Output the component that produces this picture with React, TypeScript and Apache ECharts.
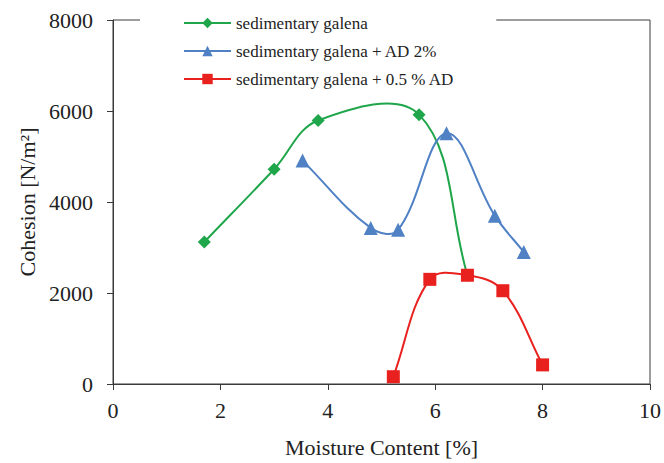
import React, { useEffect, useRef } from "react";
import * as echarts from "echarts";

const seriesNames = [
  "sedimentary galena",
  "sedimentary galena + AD 2%",
  "sedimentary galena + 0.5 % AD",
];

const galenaX = [1.7, 3.0, 3.82, 5.7, 6.6];
const galenaY = [3120, 4720, 5790, 5920, 2390];

const ad2X = [3.53, 4.8, 5.31, 6.21, 7.11, 7.65];
const ad2Y = [4910, 3430, 3390, 5510, 3700, 2900];

const ad05X = [5.22, 5.9, 6.6, 7.26, 8.0];
const ad05Y = [160, 2300, 2390, 2050, 420];

const xTicks = [0, 2, 4, 6, 8, 10];
const yTicks = [0, 2000, 4000, 6000, 8000];

const colors = ["#1fa64a", "#4f81c4", "#e8201e"];
const symbols = ["diamond", "triangle", "rect"];
const symbolSizes = [13, 14, 13];

const FONT = "'Liberation Serif', 'Times New Roman', serif";
const TENSION = 0.38;

function zip(xs: number[], ys: number[]) {
  return xs.map((x, i) => [x, ys[i]]);
}

function dist(a: number[], b: number[]) {
  return Math.hypot(b[0] - a[0], b[1] - a[1]);
}

export default function App() {
  const ref = useRef<HTMLDivElement>(null);
  useEffect(() => {
    document.body.style.margin = "0";
    if (!ref.current) return;
    const chart = echarts.init(ref.current, undefined, { renderer: "svg" });
    const datasets = [zip(galenaX, galenaY), zip(ad2X, ad2Y), zip(ad05X, ad05Y)];

    const makeRender = (pts: number[][], color: string) =>
      (params: any, api: any) => {
        const k = params.dataIndex;
        const n = pts.length;
        if (k >= n - 1) return null;
        const P = pts.map((p) => api.coord(p));
        // control points for point i: [incoming, outgoing]
        const ctrl = (i: number) => {
          const prev = P[Math.max(0, i - 1)];
          const next = P[Math.min(n - 1, i + 1)];
          const cur = P[i];
          const T = [next[0] - prev[0], next[1] - prev[1]];
          const dIn = i > 0 ? dist(prev, cur) : 0;
          const dOut = i < n - 1 ? dist(cur, next) : 0;
          const sum = dIn + dOut || 1;
          const fin = (dIn / sum) * TENSION;
          const fout = (dOut / sum) * TENSION;
          return {
            inc: [cur[0] - T[0] * fin, cur[1] - T[1] * fin],
            out: [cur[0] + T[0] * fout, cur[1] + T[1] * fout],
          };
        };
        const p1 = P[k];
        const p2 = P[k + 1];
        const c1 = ctrl(k).out;
        const c2 = ctrl(k + 1).inc;
        const d = `M${p1[0]},${p1[1]} C${c1[0]},${c1[1]} ${c2[0]},${c2[1]} ${p2[0]},${p2[1]}`;
        return {
          type: "path",
          shape: { pathData: d },
          style: { stroke: color, fill: "none", lineWidth: 2 },
          silent: true,
        };
      };

    const curveSeries = datasets.map((pts, i) => ({
      type: "custom",
      data: pts,
      renderItem: makeRender(pts, colors[i]),
      clip: false,
      z: 2 + i * 2,
      silent: true,
    }));

    const markerSeries = seriesNames.map((name, i) => ({
      name,
      type: "line",
      data: datasets[i],
      symbol: symbols[i],
      symbolSize: symbolSizes[i],
      showSymbol: true,
      z: 3 + i * 2,
      lineStyle: { color: colors[i], width: 2, opacity: 0 },
      itemStyle: { color: colors[i] },
      emphasis: { disabled: true },
    }));

    chart.setOption({
      animation: false,
      backgroundColor: "#ffffff",
      grid: {
        left: 113,
        right: 13,
        top: 20,
        bottom: 77,
        show: true,
        borderColor: "#3a3a3a",
        borderWidth: 1,
        backgroundColor: "transparent",
      },
      legend: {
        orient: "vertical",
        left: 140,
        top: 8,
        padding: [5, 42, 5, 43],
        backgroundColor: "#ffffff",
        itemWidth: 47,
        itemHeight: 13,
        itemGap: 8,
        data: seriesNames.map((name, i) => ({
          name,
          lineStyle: { color: colors[i], width: 2, opacity: 1 },
          itemStyle: { color: colors[i] },
        })),
        textStyle: {
          fontFamily: FONT,
          fontSize: 17,
          color: "#222",
          lineHeight: 20,
        },
      },
      xAxis: {
        type: "value",
        min: xTicks[0],
        max: xTicks[xTicks.length - 1],
        interval: 2,
        name: "Moisture Content [%]",
        nameLocation: "middle",
        nameGap: 52,
        nameTextStyle: { fontFamily: FONT, fontSize: 22, color: "#222" },
        axisLine: { show: true, lineStyle: { color: "#3a3a3a", width: 1 } },
        axisTick: { show: true, length: 6, lineStyle: { color: "#3a3a3a" } },
        axisLabel: {
          fontFamily: FONT,
          fontSize: 22,
          color: "#222",
          margin: 15,
          formatter: (v: number) => String(v),
        },
        splitLine: { show: false },
      },
      yAxis: {
        type: "value",
        min: yTicks[0],
        max: yTicks[yTicks.length - 1],
        interval: 2000,
        name: "Cohesion [N/m²]",
        nameLocation: "middle",
        nameGap: 75,
        nameTextStyle: { fontFamily: FONT, fontSize: 22, color: "#222" },
        axisLine: { show: true, lineStyle: { color: "#3a3a3a", width: 1 } },
        axisTick: { show: true, length: 6, lineStyle: { color: "#3a3a3a" } },
        axisLabel: {
          fontFamily: FONT,
          fontSize: 22,
          color: "#222",
          margin: 20,
          formatter: (v: number) => String(v),
        },
        splitLine: { show: false },
      },
      series: [...curveSeries, ...markerSeries],
    });
    return () => chart.dispose();
  }, []);
  return <div ref={ref} style={{ width: 664, height: 463 }} />;
}
